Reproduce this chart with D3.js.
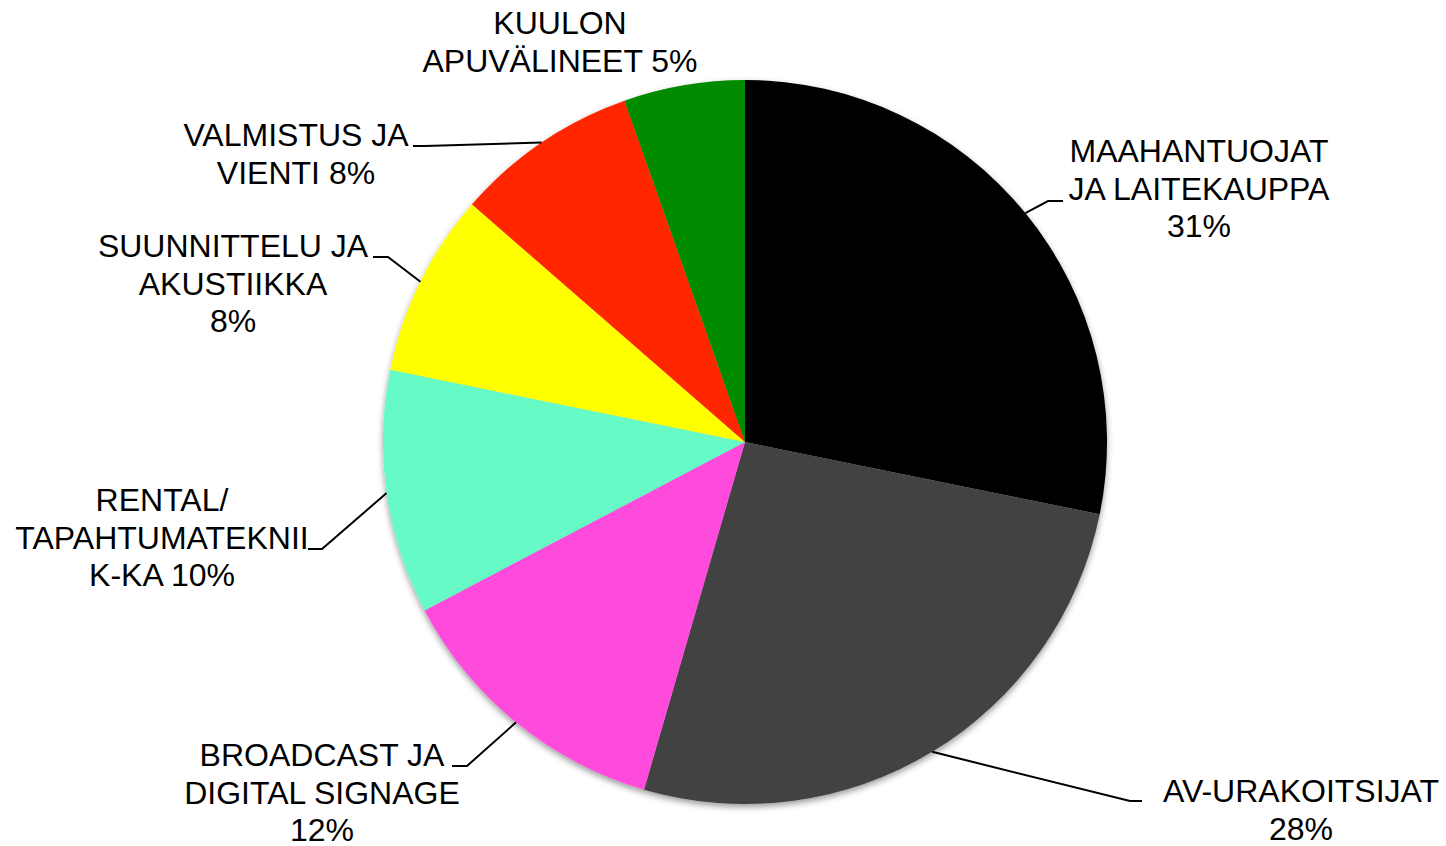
<!DOCTYPE html>
<html>
<head>
<meta charset="utf-8">
<script src="https://cdn.jsdelivr.net/npm/d3@7"></script>
<style>
  html, body { margin: 0; padding: 0; background: #fff; }
  svg { display: block; }
  .lbl { font-family: "Liberation Sans", Arial, sans-serif; font-size: 32px; fill: #000; }
  .leader { fill: none; stroke: #000; stroke-width: 2; }
</style>
</head>
<body>
<div id="chart"></div>
<script>
const width = 1446, height = 846;

// slice shares as drawn
const categories = ["MAAHANTUOJAT JA LAITEKAUPPA", "AV-URAKOITSIJAT", "BROADCAST JA DIGITAL SIGNAGE",
  "RENTAL/ TAPAHTUMATEKNIIKKA", "SUUNNITTELU JA AKUSTIIKKA", "VALMISTUS JA VIENTI", "KUULON APUVÄLINEET"];
const shares = [28.2, 26.3, 12.8, 10.9, 8.2, 8.2, 5.4];
// label lines as printed on the chart
const labelLines = [
  ["MAAHANTUOJAT", "JA LAITEKAUPPA", "31%"],
  ["AV-URAKOITSIJAT", "28%"],
  ["BROADCAST JA", "DIGITAL SIGNAGE", "12%"],
  ["RENTAL/", "TAPAHTUMATEKNII", "K-KA 10%"],
  ["SUUNNITTELU JA", "AKUSTIIKKA", "8%"],
  ["VALMISTUS JA", "VIENTI 8%"],
  ["KUULON", "APUVÄLINEET 5%"]
];
const colors = ["#000000", "#434343", "#ff4bdc", "#66fac6", "#ffff00", "#ff2500", "#008b00"];

// label layout: text centre x, first baseline y, leader elbow + end (null = no leader)
const labelPos = [
  {x: 1199, y: 162, elbow: [1048, 201], end: [1063, 201]},
  {x: 1301, y: 802, elbow: [1130, 801], end: [1142, 801]},
  {x: 322, y: 766, elbow: [467, 766], end: [452, 766]},
  {x: 162, y: 511, elbow: [322, 549], end: [308, 549]},
  {x: 233, y: 257, elbow: [388, 257], end: [373, 257]},
  {x: 296, y: 146, elbow: [425, 146], end: [413, 146]},
  {x: 560, y: 34, elbow: null, end: null}
];

const cx = 745, cy = 442, radius = 362, lineHeight = 37.5;

let svg = d3.select("#chart")
  .append("svg")
  .attr("width", width)
  .attr("height", height);

let defs = svg.append("defs");
defs.append("filter")
  .attr("id", "shadow")
  .attr("x", "-10%").attr("y", "-10%").attr("width", "120%").attr("height", "120%")
  .append("feDropShadow")
  .attr("dx", 0).attr("dy", 3)
  .attr("stdDeviation", 3)
  .attr("flood-color", "#000")
  .attr("flood-opacity", 0.4);

let color = d3.scaleOrdinal().domain(categories).range(colors);

let pie = d3.pie().sort(null).value((d) => d);
let arcs = pie(shares);

let arc = d3.arc().innerRadius(0).outerRadius(radius);
let rimArc = d3.arc().innerRadius(radius).outerRadius(radius);

let g = svg.append("g")
  .attr("transform", "translate(" + cx + "," + cy + ")");

g.append("g")
  .attr("filter", "url(#shadow)")
  .selectAll("path")
  .data(arcs)
  .enter().append("path")
  .attr("d", arc)
  .attr("fill", (d, i) => color(categories[i]));

// leader lines from slice rim to label
let line = d3.line();
svg.append("g")
  .selectAll("path")
  .data(arcs.filter((d, i) => labelPos[i].elbow))
  .enter().append("path")
  .attr("class", "leader")
  .attr("d", function(d) {
    let p = labelPos[d.index];
    let c = rimArc.centroid(d);
    return line([[cx + c[0], cy + c[1]], p.elbow, p.end]);
  });

let labels = svg.append("g")
  .selectAll("text")
  .data(labelLines)
  .enter().append("text")
  .attr("class", "lbl")
  .attr("text-anchor", "middle");

labels.each(function(lines, i) {
  let p = labelPos[i];
  d3.select(this).selectAll("tspan")
    .data(lines)
    .enter().append("tspan")
    .attr("x", p.x)
    .attr("y", (d, j) => p.y + j * lineHeight)
    .text((d) => d);
});
</script>
</body>
</html>
